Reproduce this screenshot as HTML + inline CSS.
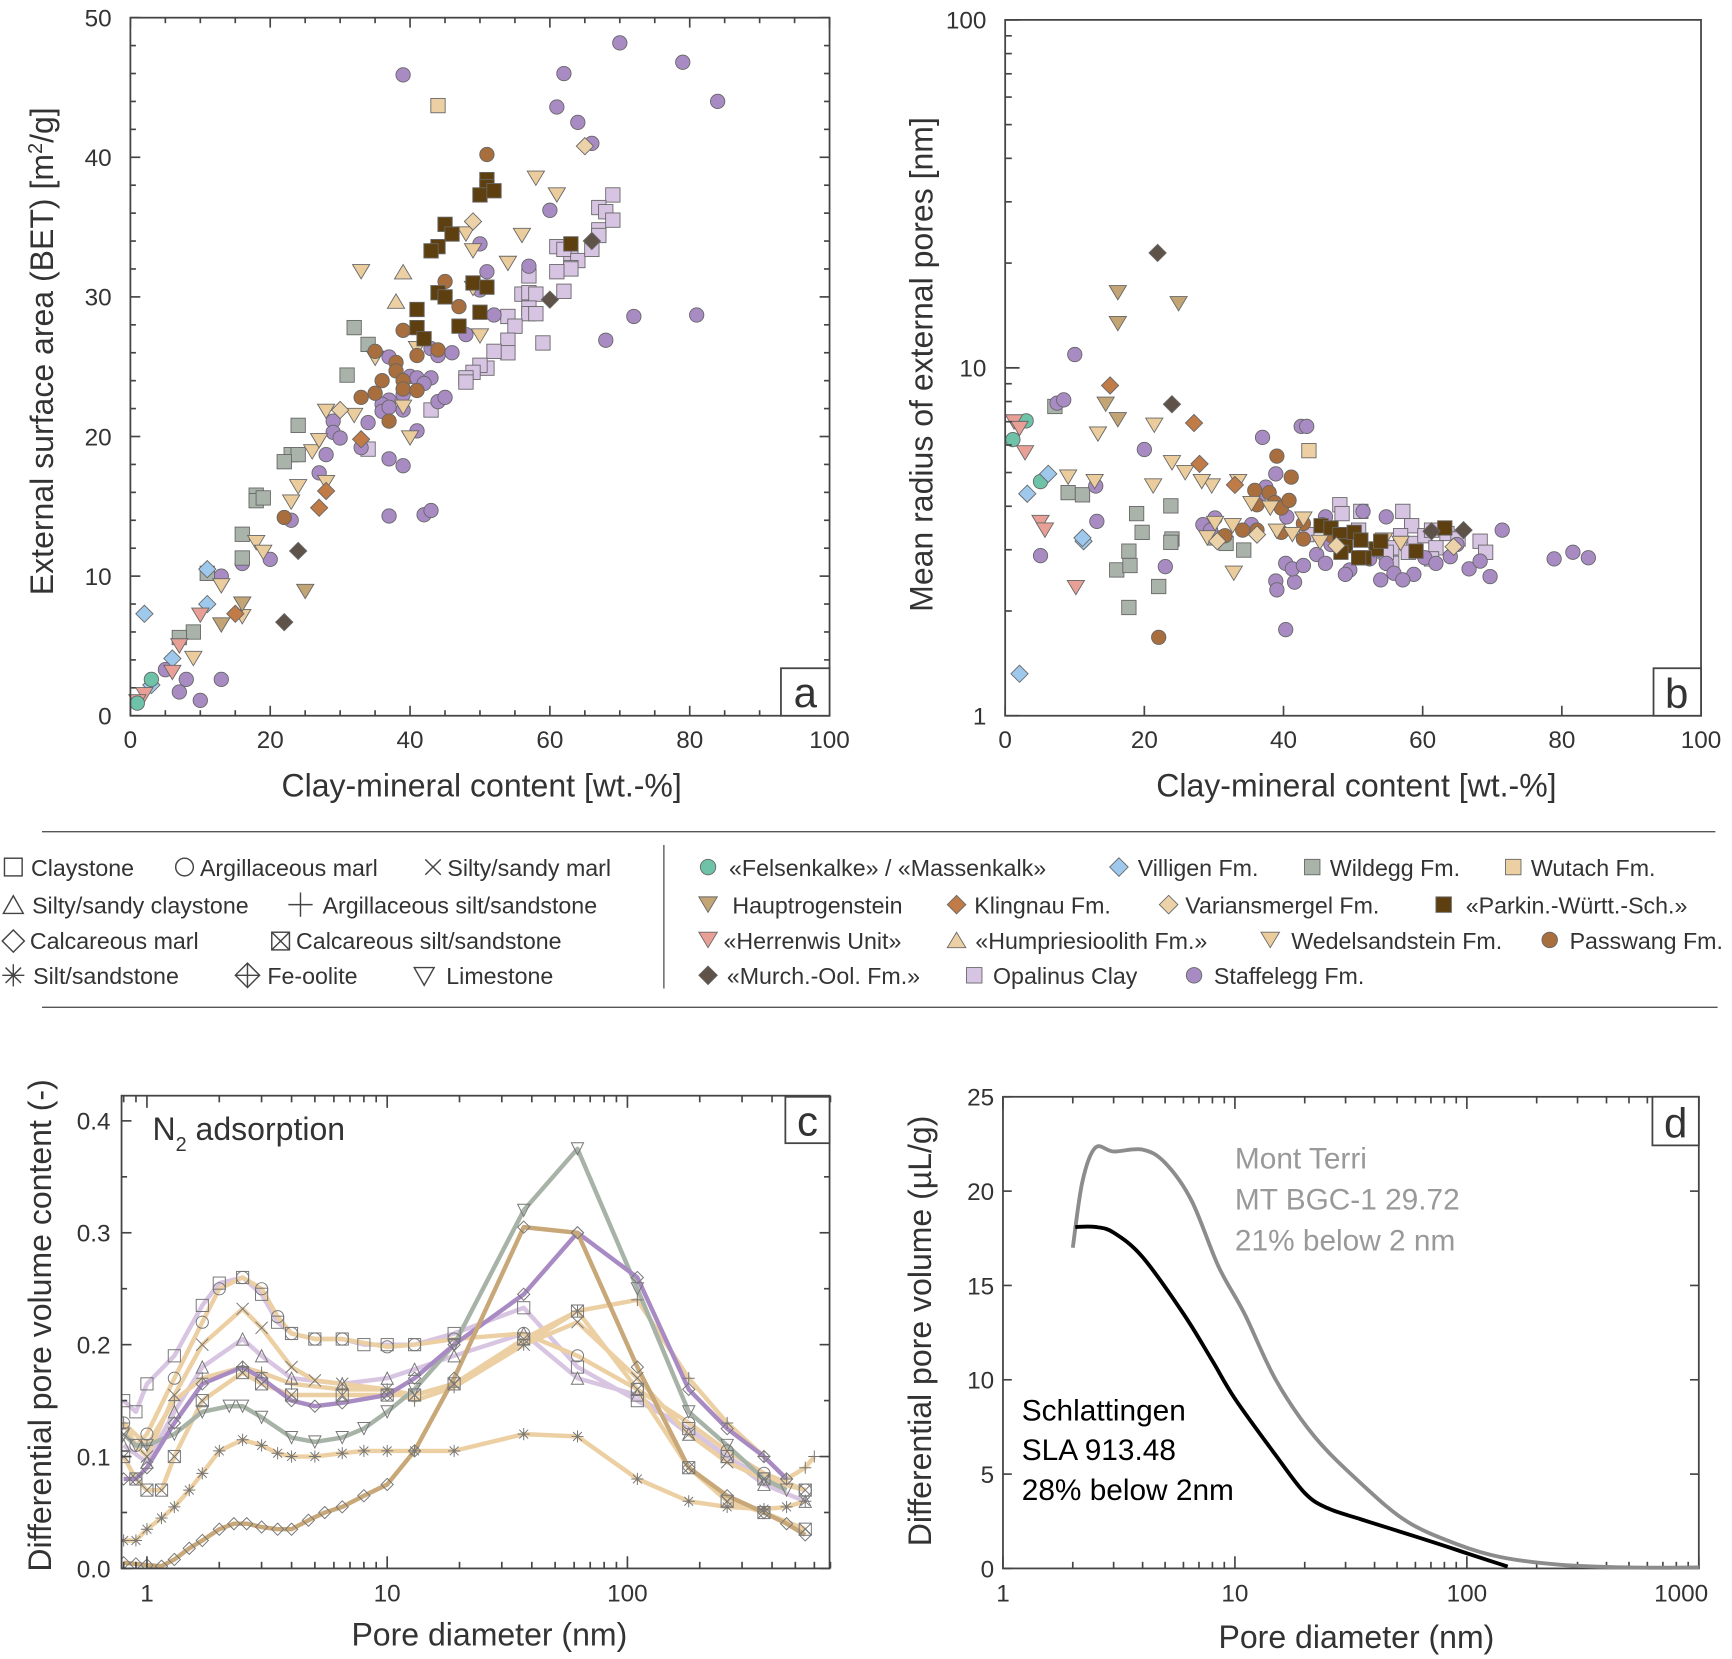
<!DOCTYPE html>
<html><head><meta charset="utf-8"><style>
html,body{margin:0;padding:0;background:#fff}
svg{display:block}
text{font-family:"Liberation Sans",sans-serif;fill:#333}
</style></head><body>
<svg id="s" width="1732" height="1659" viewBox="0 0 1568 1502" xmlns="http://www.w3.org/2000/svg">
<rect width="1568" height="1502" fill="#fff"/>
<g id="g"></g>
</svg>
<script>
const g=document.getElementById('g');let out='';
function add(s){out+=s;}
const R=v=>Math.round(v*10)/10;
const C={pu:'#a98bc4',op:'#d7c4e2',pw:'#a86e3e',pk:'#5e4010',we:'#ebcc9c',ha:'#c2a475',wi:'#a9b3aa',vi:'#9fc9ec',kl:'#c07b47',va:'#ecd2a8',wu:'#eccfa2',he:'#e8a096',hu:'#ecd0a4',mu:'#5f5248',fe:'#6dc2a8'};
function mk(sh,x,y,col,r){x=+x;y=+y;r=r||6.5;const st=' fill="'+col+'" stroke="#666" stroke-width="0.8"';
 if(sh=='o')return '<circle cx="'+x+'" cy="'+y+'" r="'+r+'"'+st+'/>';
 if(sh=='s')return '<rect x="'+(x-r)+'" y="'+(y-r)+'" width="'+2*r+'" height="'+2*r+'"'+st+'/>';
 if(sh=='d')return '<polygon points="'+x+','+(y-r*1.2)+' '+(x+r*1.2)+','+y+' '+x+','+(y+r*1.2)+' '+(x-r*1.2)+','+y+'"'+st+'/>';
 if(sh=='v')return '<polygon points="'+(x-r*1.2)+','+(y-r)+' '+(x+r*1.2)+','+(y-r)+' '+x+','+(y+r)+'"'+st+'/>';
 if(sh=='^')return '<polygon points="'+(x-r*1.2)+','+(y+r)+' '+(x+r*1.2)+','+(y+r)+' '+x+','+(y-r)+'"'+st+'/>';
}
function T(x,y,s,sz,anc,extra){return '<text x="'+x+'" y="'+y+'" font-size="'+sz+'" text-anchor="'+(anc||'start')+'" '+(extra||'')+'>'+s+'</text>';}
// ---------- Panel a
const ax=x=>118+x*6.33, ay=y=>648-y*12.64;
let A={
pu:[[39,45.9],[70,48.2],[79,46.8],[62,46],[84,44],[61,43.6],[64,42.5],[66,41],[60,36.2],[50,33.8],[57,32.2],[51,31.8],[50,30.5],[52,28.7],[72,28.6],[81,28.7],[68,26.9],[48,27.3],[46,26],[43,26.3],[44,25.8],[37,25.7],[40,24.3],[41,24.2],[43,24.2],[42,23.8],[39,23],[37,22.6],[36,22.3],[36,21.8],[37,22.1],[39,21.9],[44,22.5],[45,22.8],[34,21],[29,21.1],[29,20.3],[30,19.9],[33,19.2],[41,20.4],[28,18.7],[27,17.4],[37,18.4],[39,17.9],[23,14],[37,14.3],[42,14.4],[43,14.7],[16,10.9],[20,11.2],[13,10],[13,2.6],[8,2.6],[7,1.7],[10,1.1],[5,3.3]],
op:[[69,37.3],[67,36.4],[68,36.1],[67,34.8],[67,34.4],[69,35.5],[63,33.1],[61,33.6],[62,33.4],[64,32.6],[63,32.1],[63,32],[61,31.8],[66,33.4],[57,31.5],[62,30.4],[56,30.2],[57,30.3],[58,30.2],[57,29.2],[57,28.8],[58,28.8],[54,28.6],[55,27.9],[59,26.7],[54,26.9],[54,26],[52,26.1],[51,24.9],[50,25.1],[49,24.6],[48,24.2],[48,23.9],[43,21.9],[34,19.1]],
pw:[[51,40.2],[45,31.1],[47,29.3],[39,27.6],[35,26.1],[44,26.2],[38,25.3],[41,25.8],[36,24],[38,24.7],[39,24],[39,23.4],[41,23.3],[33,22.8],[35,23.1],[37,21.1],[22,14.2]],
pk:[[51,38.4],[51,37.9],[50,37.3],[52,37.6],[45,35.2],[46,34.5],[44,33.6],[43,33.3],[49,31],[51,30.7],[44,30.3],[45,30],[41,29.1],[50,28.9],[47,27.9],[41,27.8],[42,27],[63,33.8]],
we:[[58,38.5],[61,37.3],[48,34.5],[49,33.3],[56,34.4],[54,32.4],[33,31.8],[49,30.6],[50,27.2],[41,26.3],[35,25.6],[28,21.8],[32,21.5],[39,22.1],[40,19.9],[26,18.9],[27,19.7],[24,16.4],[28,16.7],[23,15.3],[18,12.4],[19,11.7],[13,9.3],[9,4.1],[16,7.1]],
ha:[[25,8.9],[13,6.5],[16,8]],
wi:[[32,27.8],[34,26.6],[31,24.4],[24,20.8],[23,18.7],[24,18.7],[22,18.2],[18,15.8],[18,15.4],[19,15.6],[16,13],[16,11.3],[11,10.2],[9,6],[7,5.6]],
kl:[[33,19.8],[28,16.1],[27,14.9],[15,7.3]],
va:[[65,40.8],[49,35.4],[30,21.9]],
wu:[[44,43.7]],hu:[[39,31.8],[38,29.7]],
mu:[[60,29.8],[66,34],[24,11.8],[22,6.7]],
vi:[[2,7.3],[11,10.5],[11,8],[6,4.1],[3,2.2]],
he:[[10,7.2],[7,5],[6,3.1],[2,1.5],[1,1]],
fe:[[3,2.6],[1,0.9]]};
const SH={pu:'o',op:'s',pw:'o',pk:'s',we:'v',ha:'v',wi:'s',kl:'d',va:'d',wu:'s',hu:'^',mu:'d',vi:'d',he:'v',fe:'o'};
const order=['op','pu','wi','we','ha','pw','pk','kl','va','wu','hu','mu','vi','he','fe'];
for(const k of order)for(const p of A[k])add(mk(SH[k],R(ax(p[0])),R(ay(p[1])),C[k]));
function frame(x0,y0,x1,y1){add('<rect x="'+x0+'" y="'+y0+'" width="'+(x1-x0)+'" height="'+(y1-y0)+'" fill="none" stroke="#444" stroke-width="1.6"/>');}
frame(118,16,751,648);
for(let v=0;v<=100;v+=5){const x=ax(v),l=v%20==0?9:5;add('<line x1="'+x+'" y1="648" x2="'+x+'" y2="'+(648-l)+'" stroke="#444" stroke-width="1.5"/><line x1="'+x+'" y1="16" x2="'+x+'" y2="'+(16+l)+'" stroke="#444" stroke-width="1.5"/>');if(v%20==0)add(T(x,677,v,22,'middle'));}
for(let v=0;v<=50;v+=2){const y=ay(v),l=v%10==0?9:5;add('<line x1="118" y1="'+y+'" x2="'+(118+l)+'" y2="'+y+'" stroke="#444" stroke-width="1.5"/><line x1="751" y1="'+y+'" x2="'+(751-l)+'" y2="'+y+'" stroke="#444" stroke-width="1.5"/>');if(v%10==0)add(T(101,y+8,v,22,'end'));}
add(T(436,721,'Clay-mineral content [wt.-%]',29,'middle'));
add('<text transform="translate(48,318) rotate(-90)" font-size="29" text-anchor="middle">External surface area (BET) [m<tspan font-size="18" dy="-10">2</tspan><tspan dy="10">/g]</tspan></text>');
add('<rect x="707" y="605" width="44" height="43" fill="#fff" stroke="#444" stroke-width="1.6"/>'+T(729,640,'a',38,'middle'));
// ---------- Panel b
const B=[
['fe',[[917,398],[929,381],[942,436]]],
['wi',[[955,368],[967,446],[980,448],[1029,465],[1022,499],[1034,482],[1060,458],[1061,488],[1011,516],[1023,512],[1022,550],[1049,531],[1060,491],[1100,487],[1110,492],[1126,498]]],
['op',[[1183,484],[1213,457],[1232,463],[1270,463],[1278,476],[1280,492],[1290,485],[1296,480],[1310,483],[1320,488],[1300,496],[1268,485],[1260,496],[1275,500],[1340,490],[1345,500],[1260,510],[1296,506],[1255,500],[1230,480],[1215,465]]],
['pu',[[973,321],[957,365],[963,362],[992,440],[942,503],[993,472],[1036,407],[1055,513],[1143,396],[1178,386],[1183,386],[1139,452],[1155,429],[1146,441],[1089,475],[1096,480],[1100,469],[1133,475],[1165,468],[1164,510],[1200,468],[1214,495],[1234,463],[1155,526],[1156,534],[1164,570],[1172,527],[1170,515],[1192,502],[1205,493],[1222,516],[1218,520],[1246,499],[1255,468],[1255,510],[1262,519],[1290,505],[1280,520],[1313,504],[1319,493],[1330,515],[1349,522],[1360,480],[1407,506],[1424,500],[1438,505],[1270,525],[1250,525],[1200,510],[1180,512],[1240,506],[1300,510],[1340,508]]],
['pw',[[1049,577],[1156,413],[1169,432],[1136,444],[1138,457],[1149,446],[1154,455],[1160,460],[1167,453],[1180,474],[1160,482],[1138,480],[1125,480],[1109,485],[1197,475],[1206,485],[1180,488]]],
['we',[[1045,385],[1061,419],[1073,428],[1044,440],[1097,440],[1121,436],[1133,456],[1088,436],[1100,474],[1093,487],[1116,476],[1150,460],[1117,519],[1156,481],[1170,484],[1195,491],[1210,486],[1253,489],[1268,492],[1244,498],[1180,470],[994,393],[991,436],[967,432]]],
['ha',[[1012,265],[1067,275],[1012,293],[1001,366],[1012,380]]],
['pk',[[1196,476],[1205,478],[1213,484],[1218,494],[1226,482],[1232,489],[1246,497],[1250,490],[1235,505],[1230,505],[1214,500],[1282,499],[1308,478]]],
['kl',[[1005,349],[1081,383],[1086,420],[1118,439]]],
['va',[[1102,490],[1316,495],[1210,494],[1138,484]]],
['wu',[[1185,408]]],
['mu',[[1048,229],[1061,366],[1296,481],[1325,480]]],
['vi',[[930,447],[949,429],[981,490],[980,487],[923,610]]],
['he',[[918,382],[923,388],[928,410],[942,473],[946,480],[974,532]]]];
for(const [k,ps] of B)for(const p of ps)add(mk(SH[k],p[0],p[1],C[k]));
frame(910,18,1540,648);
const bx=v=>910+v*6.3;
for(let v=0;v<=100;v+=20){const x=bx(v);add('<line x1="'+x+'" y1="648" x2="'+x+'" y2="639" stroke="#444" stroke-width="1.5"/>'+T(x,677,v,22,'middle'));}
for(let d=0;d<2;d++)for(let m=1;m<=10;m++){const y=648-315*(d+Math.log10(m)),l=(m==1||m==10)?13:6;add('<line x1="910" y1="'+y+'" x2="'+(910+l)+'" y2="'+y+'" stroke="#444" stroke-width="1.5"/>');}
add(T(893,656,'1',22,'end')+T(893,341,'10',22,'end')+T(893,26,'100',22,'end'));
add(T(1228,721,'Clay-mineral content [wt.-%]',29,'middle'));
add(T(0,0,'Mean radius of external pores [nm]',29,'middle','transform="translate(844,330) rotate(-90)"'));
add('<rect x="1497" y="605" width="43" height="43" fill="#fff" stroke="#444" stroke-width="1.6"/>'+T(1518,641,'b',38,'middle'));
// ---------- legend
add('<line x1="38" y1="753" x2="1553" y2="753" stroke="#555" stroke-width="1.2"/><line x1="38" y1="912" x2="1555" y2="912" stroke="#555" stroke-width="1.2"/><line x1="601" y1="765" x2="601" y2="895" stroke="#555" stroke-width="1.2"/>');
const LS='fill="none" stroke="#444" stroke-width="1.3"';
add('<rect x="4" y="777" width="16" height="16" '+LS+'/>'+T(28,793,'Claystone',21));
add('<circle cx="167" cy="785" r="8" '+LS+'/>'+T(181,793,'Argillaceous marl',21));
add('<path d="M385,778 l14,14 M399,778 l-14,14" '+LS+'/>'+T(405,793,'Silty/sandy marl',21));
add('<polygon points="3,827 21,827 12,811" '+LS+'/>'+T(29,827,'Silty/sandy claystone',21));
add('<path d="M261,819 h22 M272,808 v22" '+LS+'/>'+T(292,827,'Argillaceous silt/sandstone',21));
add('<polygon points="12,842 22,852 12,862 2,852" '+LS+'/>'+T(27,859,'Calcareous marl',21));
add('<rect x="246" y="844" width="16" height="16" '+LS+'/><path d="M246,844 l16,16 M262,844 l-16,16" '+LS+'/>'+T(268,859,'Calcareous silt/sandstone',21));
add('<path d="M2,883 h20 M12,873 v20 M5,876 l14,14 M19,876 l-14,14" '+LS+'/>'+T(30,891,'Silt/sandstone',21));
add('<polygon points="224,872 235,883 224,894 213,883" '+LS+'/><path d="M213,883 h22 M224,872 v22" '+LS+'/>'+T(242,891,'Fe-oolite',21));
add('<polygon points="375,876 393,876 384,892" '+LS+'/>'+T(404,891,'Limestone',21));
const L=[['o','fe',641,785,'«Felsenkalke» / «Massenkalk»',660],['d','vi',1013,785,'Villigen Fm.',1030],['s','wi',1188,785,'Wildegg Fm.',1204],['s','wu',1370,785,'Wutach Fm.',1386],
['v','ha',641,819,'Hauptrogenstein',663],['d','kl',866,819,'Klingnau Fm.',882],['d','va',1058,819,'Variansmergel Fm.',1073],['s','pk',1307,819,'«Parkin.-Württ.-Sch.»',1327],
['v','he',641,851,'«Herrenwis Unit»',655],['^','hu',866,851,'«Humpriesioolith Fm.»',883],['v','we',1150,851,'Wedelsandstein Fm.',1169],['o','pw',1403,851,'Passwang Fm.',1421],
['d','mu',641,883,'«Murch.-Ool. Fm.»',658],['s','op',882,883,'Opalinus Clay',899],['o','pu',1081,883,'Staffelegg Fm.',1099]];
for(const l of L)add(mk(l[0],l[2],l[3],C[l[1]],7)+T(l[5],l[3]+8,l[4],21));
// ---------- Panel c
const cx=d=>133+217.5*Math.log10(d), cy=v=>1420-v*1013;
const S=[
['#d8c5e2','s',[[0.8,0.15],[0.9,0.14],[1,0.165],[1.3,0.19],[1.7,0.235],[2,0.255],[2.5,0.26],[3,0.245],[3.5,0.22],[4,0.21],[5,0.205],[6.5,0.205],[8,0.2],[10,0.2],[13,0.2],[19,0.21],[37,0.233],[62,0.18],[110,0.15],[180,0.125],[260,0.1],[370,0.08],[550,0.07]]],
['#d8c5e2','^',[[0.8,0.11],[1,0.095],[1.3,0.14],[1.7,0.18],[2.5,0.205],[3,0.19],[4,0.17],[6.5,0.165],[10,0.17],[13,0.178],[19,0.19],[37,0.21],[62,0.17],[110,0.155],[180,0.12],[260,0.1],[370,0.075],[550,0.06]]],
['#ecd0a3','o',[[0.8,0.13],[0.9,0.11],[1,0.12],[1.3,0.17],[1.7,0.22],[2,0.25],[2.5,0.26],[3,0.25],[3.5,0.225],[4,0.21],[5,0.205],[6.5,0.205],[10,0.198],[13,0.2],[19,0.205],[37,0.21],[62,0.19],[110,0.16],[180,0.13],[260,0.105],[370,0.085],[550,0.07]]],
['#ecd0a3','x',[[0.8,0.12],[1,0.1],[1.3,0.155],[1.7,0.2],[2.5,0.232],[3,0.215],[4,0.18],[5,0.168],[6.5,0.165],[10,0.16],[13,0.155],[19,0.165],[37,0.2],[62,0.22],[110,0.17],[180,0.12],[260,0.095],[370,0.08],[550,0.07]]],
['#ecd0a3','+',[[0.8,0.13],[1,0.11],[1.3,0.15],[1.7,0.17],[2.5,0.18],[3,0.175],[4,0.165],[6.5,0.16],[10,0.16],[13,0.15],[19,0.162],[37,0.2],[62,0.23],[110,0.24],[180,0.17],[260,0.13],[370,0.1],[460,0.08],[550,0.09],[600,0.1]]],
['#ecd0a3','z',[[0.8,0.1],[0.9,0.08],[1,0.07],[1.15,0.07],[1.3,0.1],[1.7,0.15],[2.5,0.175],[3,0.165],[4,0.155],[6.5,0.155],[10,0.155],[13,0.155],[19,0.165],[37,0.205],[62,0.23],[110,0.16],[180,0.09],[260,0.06],[370,0.05],[550,0.035]]],
['#ecd0a3','*',[[0.8,0.025],[0.9,0.025],[1,0.035],[1.15,0.045],[1.3,0.055],[1.5,0.07],[1.7,0.085],[2,0.105],[2.5,0.115],[3,0.11],[3.5,0.103],[4,0.1],[5,0.1],[6.5,0.103],[8,0.105],[10,0.105],[13,0.105],[19,0.105],[37,0.12],[62,0.118],[110,0.08],[180,0.06],[260,0.055],[370,0.053],[460,0.055],[550,0.06]]],
['#a8b3a8','v',[[0.8,0.12],[0.9,0.11],[1,0.11],[1.3,0.12],[1.7,0.14],[2.2,0.145],[2.5,0.145],[3,0.135],[4,0.117],[5,0.113],[6.5,0.117],[8,0.125],[10,0.14],[13,0.16],[19,0.2],[37,0.32],[62,0.375],[110,0.25],[180,0.14],[260,0.11],[370,0.08],[460,0.07]]],
['#a98bc4','d',[[0.8,0.08],[0.9,0.08],[1,0.09],[1.3,0.13],[1.7,0.165],[2.5,0.18],[3,0.17],[4,0.15],[5,0.145],[6.5,0.148],[10,0.155],[13,0.17],[19,0.2],[37,0.245],[62,0.3],[110,0.26],[180,0.16],[260,0.125],[370,0.1],[460,0.08]]],
['#c8a878','d',[[0.8,0.005],[0.9,0.004],[1,0.003],[1.15,0.002],[1.3,0.008],[1.5,0.018],[1.7,0.025],[2,0.035],[2.3,0.04],[2.6,0.04],[3,0.037],[3.5,0.035],[4,0.035],[4.7,0.043],[5.5,0.05],[6.5,0.055],[8,0.065],[10,0.075],[13,0.105],[19,0.17],[37,0.305],[62,0.3],[110,0.18],[180,0.09],[260,0.065],[370,0.05],[460,0.04],[550,0.03]]]];
add('<defs><clipPath id="cc"><rect x="110" y="992" width="641" height="428"/></clipPath></defs><g clip-path="url(#cc)">');
function cm(sh,x,y){const r=5.5,st=' fill="none" stroke="#777" stroke-width="0.9"';
 if(sh=='s')return '<rect x="'+(x-r)+'" y="'+(y-r)+'" width="'+2*r+'" height="'+2*r+'"'+st+'/>';
 if(sh=='o')return '<circle cx="'+x+'" cy="'+y+'" r="'+r+'"'+st+'/>';
 if(sh=='^')return '<polygon points="'+(x-r)+','+(y+r)+' '+(x+r)+','+(y+r)+' '+x+','+(y-r)+'"'+st+'/>';
 if(sh=='v')return '<polygon points="'+(x-r)+','+(y-r)+' '+(x+r)+','+(y-r)+' '+x+','+(y+r)+'"'+st+'/>';
 if(sh=='d')return '<polygon points="'+x+','+(y-r)+' '+(x+r)+','+y+' '+x+','+(y+r)+' '+(x-r)+','+y+'"'+st+'/>';
 if(sh=='x')return '<path d="M'+(x-r)+','+(y-r)+'l'+2*r+','+2*r+'M'+(x+r)+','+(y-r)+'l'+(-2*r)+','+2*r+'"'+st+'/>';
 if(sh=='+')return '<path d="M'+(x-r)+','+y+'h'+2*r+'M'+x+','+(y-r)+'v'+2*r+'"'+st+'/>';
 if(sh=='z')return '<rect x="'+(x-r)+'" y="'+(y-r)+'" width="'+2*r+'" height="'+2*r+'"'+st+'/><path d="M'+(x-r)+','+(y-r)+'l'+2*r+','+2*r+'M'+(x+r)+','+(y-r)+'l'+(-2*r)+','+2*r+'"'+st+'/>';
 if(sh=='*')return '<path d="M'+(x-r)+','+y+'h'+2*r+'M'+x+','+(y-r)+'v'+2*r+'M'+(x-4)+','+(y-4)+'l8,8M'+(x+4)+','+(y-4)+'l-8,8"'+st+'/>';
}
for(const s of S){const pts=s[2].map(p=>R(cx(p[0]))+','+R(cy(p[1]))).join(' ');add('<polyline points="'+pts+'" fill="none" stroke="'+s[0]+'" stroke-width="4" stroke-linejoin="round"/>');}
for(const s of S)for(const p of s[2])add(cm(s[1],R(cx(p[0])),R(cy(p[1]))));
add('</g>');
frame(110,992,751,1420);
for(let e=-1;e<3;e++)for(let m=1;m<10;m++){const d=m*Math.pow(10,e);if(d<0.78||d>700)continue;const x=cx(d),l=m==1?11:6;add('<line x1="'+x+'" y1="1420" x2="'+x+'" y2="'+(1420-l)+'" stroke="#444" stroke-width="1.5"/><line x1="'+x+'" y1="992" x2="'+x+'" y2="'+(992+l)+'" stroke="#444" stroke-width="1.5"/>');}
[[1,'1'],[10,'10'],[100,'100']].forEach(a=>add(T(cx(a[0]),1450,a[1],22,'middle')));
for(let v=0;v<=0.4001;v+=0.05){const y=cy(v),l=(Math.round(v*100)%10==0)?9:5;add('<line x1="110" y1="'+y+'" x2="'+(110+l)+'" y2="'+y+'" stroke="#444" stroke-width="1.5"/><line x1="751" y1="'+y+'" x2="'+(751-l)+'" y2="'+y+'" stroke="#444" stroke-width="1.5"/>');if(Math.round(v*100)%10==0)add(T(100,y+8,v.toFixed(1),22,'end'));}
add(T(443,1490,'Pore diameter (nm)',29,'middle'));
add(T(0,0,'Differential pore volume content (-)',29,'middle','transform="translate(46,1200) rotate(-90)"'));
add('<text x="138" y="1032" font-size="29">N<tspan font-size="18" dy="10">2</tspan><tspan dy="-10"> adsorption</tspan></text>');
add('<rect x="711" y="993" width="40" height="42" fill="#fff" stroke="#444" stroke-width="1.6"/>'+T(731,1028,'c',38,'middle'));
// ---------- Panel d
const dx=d=>908+210*Math.log10(d), dy=v=>1420-v*17.08;
frame(908,993,1538,1420);
for(let e=0;e<4;e++)for(let m=1;m<10;m++){const d=m*Math.pow(10,e);if(d>1000)continue;const x=dx(d),l=m==1?11:6;add('<line x1="'+x+'" y1="1420" x2="'+x+'" y2="'+(1420-l)+'" stroke="#444" stroke-width="1.5"/><line x1="'+x+'" y1="993" x2="'+x+'" y2="'+(993+l)+'" stroke="#444" stroke-width="1.5"/>');}
[[1,'1'],[10,'10'],[100,'100']].forEach(a=>add(T(dx(a[0]),1450,a[1],22,'middle')));
add(T(1522,1450,'1000',22,'middle'));
for(let v=0;v<=25;v+=5){const y=dy(v);add('<line x1="908" y1="'+y+'" x2="916" y2="'+y+'" stroke="#444" stroke-width="1.5"/><line x1="1538" y1="'+y+'" x2="1530" y2="'+y+'" stroke="#444" stroke-width="1.5"/>'+T(900,y+8,v,22,'end'));}
function curve(pts,col){const P=pts.map(p=>[dx(p[0]),dy(p[1])]);let d='M'+P[0][0]+','+P[0][1];for(let i=0;i<P.length-1;i++){const p0=P[Math.max(0,i-1)],p1=P[i],p2=P[i+1],p3=P[Math.min(P.length-1,i+2)];d+=' C'+(p1[0]+(p2[0]-p0[0])/6)+','+(p1[1]+(p2[1]-p0[1])/6)+' '+(p2[0]-(p3[0]-p1[0])/6)+','+(p2[1]-(p3[1]-p1[1])/6)+' '+p2[0]+','+p2[1];}add('<path d="'+d+'" fill="none" stroke="'+col+'" stroke-width="3.5"/>');}
curve([[2,17],[2.2,20.5],[2.5,22.3],[3,22.1],[4,22.2],[5,21.5],[6.5,19.5],[8.5,16],[11,13.5],[15,10],[22,7],[35,4.5],[55,2.5],[90,1.3],[140,0.6],[250,0.2],[500,0.05],[1000,0.05]],'#8c8c8c');
curve([[2.05,18.1],[2.5,18.1],[3,17.8],[4,16.5],[6,13.5],[8,11],[10,9],[15,6],[20,4],[25,3.2],[35,2.6],[50,2],[80,1.2],[100,0.8],[150,0.1]],'#000');
add(T(1118,1058,'Mont Terri',27,'start','style="fill:#999"')+T(1118,1095,'MT BGC-1 29.72',27,'start','style="fill:#999"')+T(1118,1132,'21% below 2 nm',27,'start','style="fill:#999"'));
add(T(925,1286,'Schlattingen',27,'start','style="fill:#000"')+T(925,1322,'SLA 913.48',27,'start','style="fill:#000"')+T(925,1358,'28% below 2nm',27,'start','style="fill:#000"'));
add(T(1228,1492,'Pore diameter (nm)',29,'middle'));
add(T(0,0,'Differential pore volume (µL/g)',29,'middle','transform="translate(843,1205) rotate(-90)"'));
add('<rect x="1496" y="993" width="42" height="44" fill="#fff" stroke="#444" stroke-width="1.6"/>'+T(1517,1030,'d',38,'middle'));
g.innerHTML=out;
</script>
</body></html>
